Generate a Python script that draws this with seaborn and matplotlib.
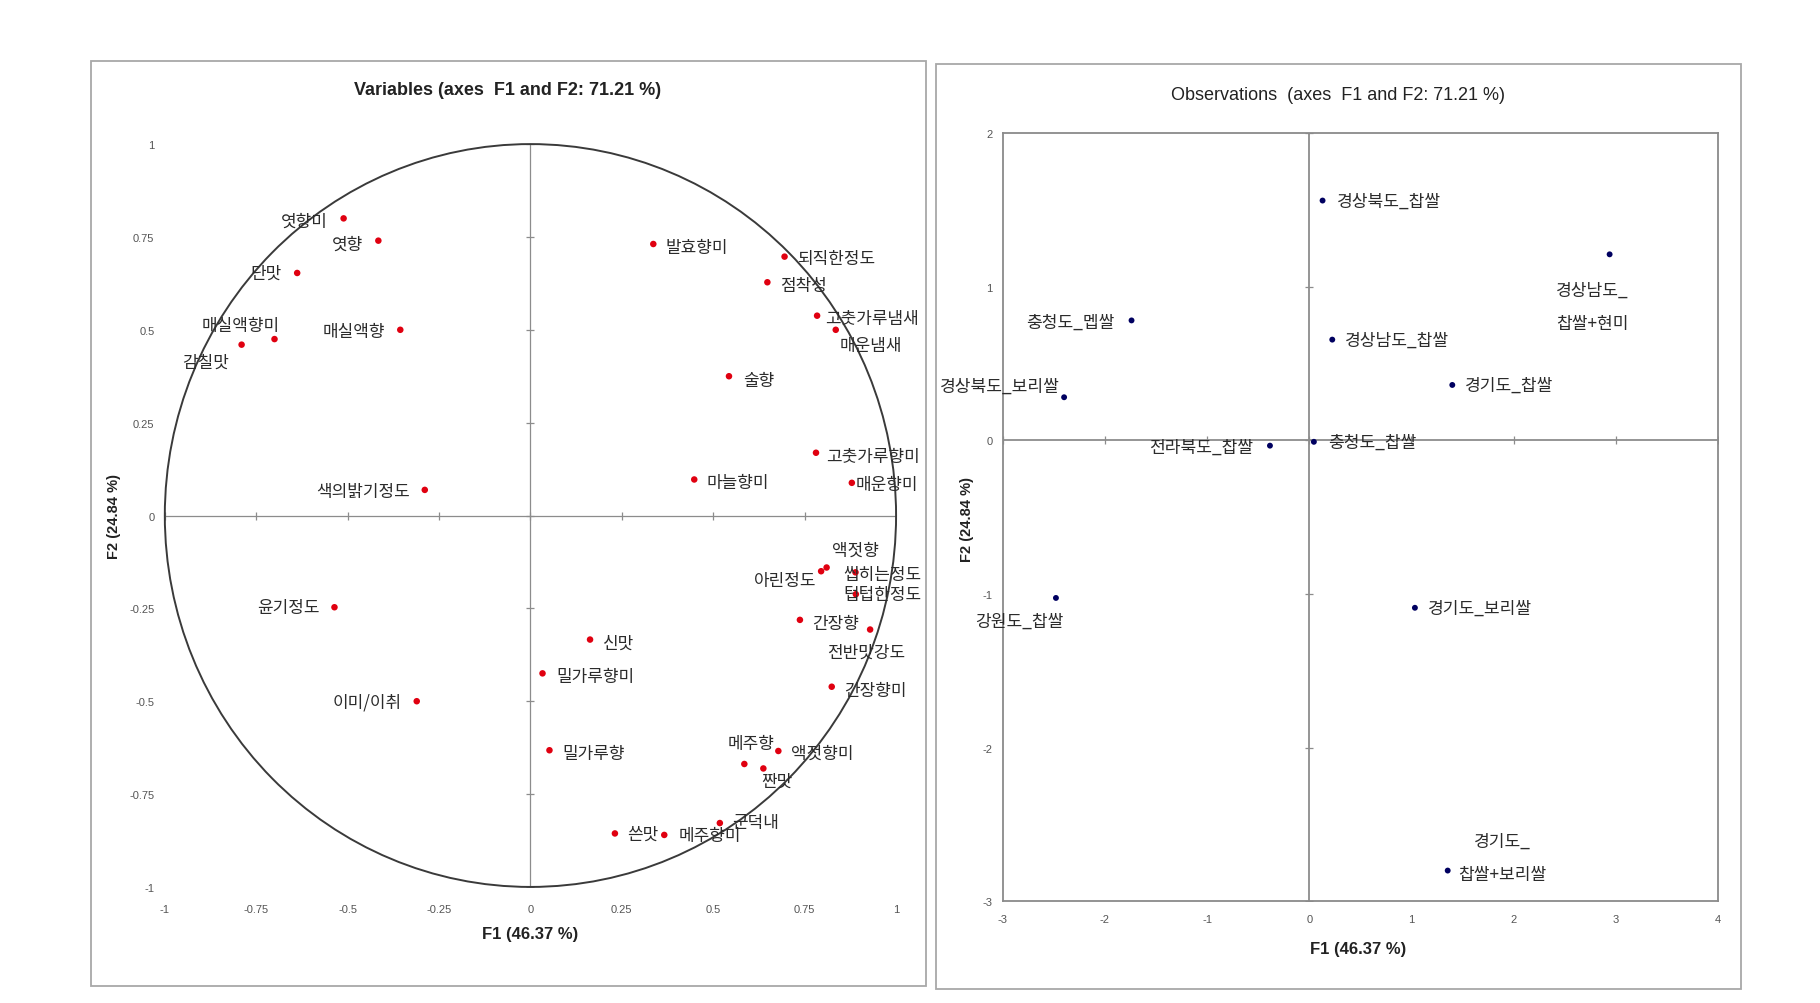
import numpy as np
import pandas as pd
import matplotlib
matplotlib.use("Agg")
import matplotlib.pyplot as plt
import seaborn as sns
from matplotlib.patches import Circle, Rectangle

# ---------------- data ----------------
var_names = ["엿향미", "엿향", "단맛", "매실액향미", "감칠맛", "매실액향", "색의밝기정도",
             "윤기정도", "이미/이취", "발효향미", "되직한정도", "점착성", "고춧가루냄새",
             "매운냄새", "술향", "고춧가루향미", "마늘향미", "매운향미", "액젓향", "아린정도",
             "씹히는정도", "텁텁한정도", "간장향", "전반맛강도", "간장향미", "신맛",
             "밀가루향미", "밀가루향", "메주향", "액젓향미", "짠맛", "군덕내", "쓴맛", "메주향미"]
var_f1 = [-0.511, -0.416, -0.638, -0.700, -0.790, -0.356, -0.289,
          -0.536, -0.311, 0.336, 0.695, 0.648, 0.784,
          0.835, 0.543, 0.781, 0.448, 0.879, 0.810, 0.795,
          0.889, 0.890, 0.737, 0.929, 0.824, 0.163,
          0.033, 0.052, 0.585, 0.678, 0.637, 0.518, 0.231, 0.366]
var_f2 = [0.800, 0.740, 0.653, 0.475, 0.460, 0.500, 0.069,
          -0.247, -0.500, 0.731, 0.697, 0.628, 0.538,
          0.500, 0.375, 0.169, 0.097, 0.088, -0.140, -0.150,
          -0.153, -0.212, -0.281, -0.307, -0.461, -0.334,
          -0.425, -0.632, -0.669, -0.634, -0.681, -0.828, -0.856, -0.860]

obs_names = ["경상북도_찹쌀", "경상남도_\n찹쌀+현미", "충청도_멥쌀", "경상남도_찹쌀",
             "경상북도_보리쌀", "경기도_찹쌀", "전라북도_찹쌀", "충청도_찹쌀",
             "강원도_찹쌀", "경기도_보리쌀", "경기도_\n찹쌀+보리쌀"]
obs_f1 = [0.13, 2.94, -1.74, 0.225, -2.40, 1.40, -0.385, 0.045, -2.48, 1.034, 1.355]
obs_f2 = [1.56, 1.21, 0.78, 0.655, 0.28, 0.36, -0.035, -0.01, -1.026, -1.09, -2.80]

var_ticks = [-1, -0.75, -0.5, -0.25, 0, 0.25, 0.5, 0.75, 1]
var_tick_labels = ["-1", "-0.75", "-0.5", "-0.25", "0", "0.25", "0.5", "0.75", "1"]
obs_xticks = [-3, -2, -1, 0, 1, 2, 3, 4]
obs_yticks = [-3, -2, -1, 0, 1, 2]

# label offsets (points) and alignment: dx, dy, ha
var_offsets = {
    "엿향미": (-11.5, -2, "right"), "엿향": (-11, -2, "right"), "단맛": (-11, 0, "right"),
    "매실액향미": (3.6, 10, "right"), "감칠맛": (-9, -12, "right"), "매실액향": (-11, -1, "right"),
    "색의밝기정도": (-11, -1, "right"), "윤기정도": (-11, 0, "right"), "이미/이취": (-11, 0, "right"),
    "발효향미": (9, -2, "left"), "되직한정도": (9, -1, "left"), "점착성": (9, -2, "left"),
    "고춧가루냄새": (6, -2, "left"), "매운냄새": (3, -11, "left"), "술향": (10, -3, "left"),
    "고춧가루향미": (7, -2, "left"), "마늘향미": (9, -2, "left"), "매운향미": (3, -1, "left"),
    "액젓향": (4, 13, "left"), "아린정도": (-3, -6.5, "right"), "씹히는정도": (-9, -1, "left"),
    "텁텁한정도": (-9, 0, "left"), "간장향": (9, -2, "left"), "전반맛강도": (-3, -16, "center"),
    "간장향미": (9, -2, "left"), "신맛": (9, -2, "left"), "밀가루향미": (10, -2, "left"),
    "밀가루향": (9, -2, "left"), "메주향": (5, 15, "center"), "액젓향미": (9, -1, "left"),
    "짠맛": (-1.5, -8.5, "left"), "군덕내": (9, 1, "left"), "쓴맛": (8.6, 0, "left"),
    "메주향미": (10, 0, "left"),
}
obs_offsets = {
    "경상북도_찹쌀": (10, 0, "left"), "경상남도_\n찹쌀+현미": (-12.7, -37.7, "center"),
    "충청도_멥쌀": (-12, -1, "right"), "경상남도_찹쌀": (9, 0, "left"),
    "경상북도_보리쌀": (-3, 8.6, "right"), "경기도_찹쌀": (9, 0, "left"),
    "전라북도_찹쌀": (-12, -1, "right"), "충청도_찹쌀": (10, 0, "left"),
    "강원도_찹쌀": (-26.6, -16.6, "center"), "경기도_보리쌀": (9, 0, "left"),
    "경기도_\n찹쌀+보리쌀": (39, 9.4, "center"),
}

# ---------------- style ----------------
sns.set_style("white")
plt.rcParams["font.family"] = ["Noto Sans CJK KR", "DejaVu Sans"]
NARROW = ["Liberation Sans Narrow", "Liberation Sans", "DejaVu Sans"]
KFONT = ["Noto Sans CJK KR", "DejaVu Sans"]
LABEL_COLOR = "#2b2b2b"
GRID = "#8c8c8c"

fig = plt.figure(figsize=(18.2, 10.04), dpi=100)

# panel frames
for (x0, y0, x1, y1) in [(78, 53, 798, 850), (806, 56, 1500, 853)]:
    fig.patches.append(Rectangle((x0 / 1568, 1 - y1 / 865), (x1 - x0) / 1568, (y1 - y0) / 865,
                                 transform=fig.transFigure, fill=False,
                                 edgecolor="#a8a8a8", linewidth=1.3))

# ---------------- left: variables ----------------
axL = fig.add_axes([0.09056, 0.11561, 0.40179, 0.73988])
dfv = pd.DataFrame({"name": var_names, "F1": var_f1, "F2": var_f2})
axL.set_xlim(-1, 1)
axL.set_ylim(-1, 1)
for s in axL.spines.values():
    s.set_visible(False)
axL.axhline(0, color=GRID, lw=0.9, zorder=1)
axL.axvline(0, color=GRID, lw=0.9, zorder=1)
axL.plot(var_ticks, np.zeros(len(var_ticks)), ls="none", marker="|", ms=6, color=GRID, mew=0.9)
axL.plot(np.zeros(len(var_ticks)), var_ticks, ls="none", marker="_", ms=6, color=GRID, mew=0.9)
axL.add_patch(Circle((0, 0), 1, fill=False, edgecolor="#3a3a3a", lw=1.4, clip_on=False, zorder=2))
sns.scatterplot(data=dfv, x="F1", y="F2", ax=axL, color="#e00010", s=22, edgecolor="none",
                legend=False, clip_on=False, zorder=3)
for _, r in dfv.iterrows():
    dx, dy, ha = var_offsets[r["name"]]
    axL.annotate(r["name"], (r["F1"], r["F2"]), xytext=(dx, dy), textcoords="offset points",
                 ha=ha, va="center", fontsize=12.2, color=LABEL_COLOR, family=KFONT,
                 annotation_clip=False, zorder=4)
axL.set_xticks(var_ticks)
axL.set_xticklabels(var_tick_labels)
axL.set_yticks(var_ticks)
axL.set_yticklabels(var_tick_labels)
axL.tick_params(axis="x", length=0, pad=12, labelsize=8, colors="#555555")
axL.tick_params(axis="y", length=0, pad=7.5, labelsize=8, colors="#555555")
for t in axL.get_xticklabels() + axL.get_yticklabels():
    t.set_family(NARROW)
axL.set_xlabel("")
axL.set_ylabel("")
fig.text(0.2787, 0.9098, "Variables (axes  F1 and F2: 71.21 %)", ha="center", va="center",
         fontsize=13, fontweight="bold", family=NARROW, color="#222222")
fig.text(0.2915, 0.0694, "F1 (46.37 %)", ha="center", va="center", fontsize=12,
         fontweight="bold", family=NARROW, color="#222222")
fig.text(0.0625, 0.4855, "F2 (24.84 %)", ha="center", va="center", rotation=90, fontsize=10.5,
         fontweight="bold", family=["Liberation Sans", "DejaVu Sans"], color="#222222")

# ---------------- right: observations ----------------
axR = fig.add_axes([0.5510, 0.1013, 0.3929, 0.7653])
dfo = pd.DataFrame({"name": obs_names, "F1": obs_f1, "F2": obs_f2})
axR.set_xlim(-3, 4)
axR.set_ylim(-3, 2)
for s in axR.spines.values():
    s.set_visible(True)
    s.set_color("#8a8a8a")
    s.set_linewidth(1.3)
axR.axhline(0, color=GRID, lw=1.3, zorder=1)
axR.axvline(0, color=GRID, lw=1.3, zorder=1)
axR.plot(obs_xticks, np.zeros(len(obs_xticks)), ls="none", marker="|", ms=6, color=GRID, mew=0.9)
axR.plot(np.zeros(len(obs_yticks)), obs_yticks, ls="none", marker="_", ms=6, color=GRID, mew=0.9)
sns.scatterplot(data=dfo, x="F1", y="F2", ax=axR, color="#000060", s=18, edgecolor="none",
                legend=False, clip_on=False, zorder=3)
for _, r in dfo.iterrows():
    dx, dy, ha = obs_offsets[r["name"]]
    axR.annotate(r["name"], (r["F1"], r["F2"]), xytext=(dx, dy), textcoords="offset points",
                 ha=ha, va="center", multialignment="center", linespacing=2.1,
                 fontsize=12.3, color=LABEL_COLOR, family=KFONT, annotation_clip=False, zorder=4)
axR.set_xticks(obs_xticks)
axR.set_xticklabels([str(v) for v in obs_xticks])
axR.set_yticks(obs_yticks)
axR.set_yticklabels([str(v) for v in obs_yticks])
axR.tick_params(axis="x", length=0, pad=9, labelsize=8, colors="#555555")
axR.tick_params(axis="y", length=0, pad=7.5, labelsize=8, colors="#555555")
for t in axR.get_xticklabels() + axR.get_yticklabels():
    t.set_family(NARROW)
axR.set_xlabel("")
axR.set_ylabel("")
fig.text(0.7353, 0.9052, "Observations  (axes  F1 and F2: 71.21 %)", ha="center", va="center",
         fontsize=13, family=NARROW, color="#222222")
fig.text(0.7462, 0.0543, "F1 (46.37 %)", ha="center", va="center", fontsize=12,
         fontweight="bold", family=NARROW, color="#222222")
fig.text(0.5312, 0.4821, "F2 (24.84 %)", ha="center", va="center", rotation=90, fontsize=10.5,
         fontweight="bold", family=["Liberation Sans", "DejaVu Sans"], color="#222222")

fig.savefig("out.png", dpi=100, facecolor="white")
